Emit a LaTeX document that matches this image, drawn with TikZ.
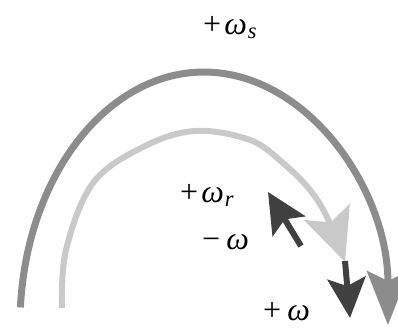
\documentclass[tikz,border=0pt]{standalone}
\usepackage{fontspec}
\setmainfont{Liberation Serif}
\usepackage{xcolor}
\usetikzlibrary{arrows.meta}

\definecolor{statorgray}{gray}{0.55}
\definecolor{rotorgray}{gray}{0.79}
\definecolor{slipdark}{gray}{0.25}

\begin{document}
\begin{tikzpicture}[x=1pt, y=1pt,
    lbl/.style={inner sep=0pt, anchor=base west, font=\fontsize{32}{34}\selectfont},
    statorarc/.style={draw=statorgray, line width=7pt,
                -{Stealth[length=54pt, width=42pt, inset=10pt]}},
    rotorarc/.style={draw=rotorgray, line width=6pt,
                -{Stealth[length=53pt, width=48pt, inset=11pt]}},
    sliparr/.style={draw=slipdark, line width=6pt,
                -{Stealth[length=40pt, width=38pt, inset=8pt]}}
  ]
  \useasboundingbox (0,0) rectangle (398,329);

  % end points of the arrows
  \coordinate (sstart) at (20.4,21.6);
  \coordinate (pstart) at (345,68);
  \coordinate (ptip)   at (350,11);
  \coordinate (mstart) at (301,83);
  \coordinate (mtip)   at (268,137);

  % stator field, rotor field
  \draw[statorarc] (sstart) arc[start angle=176, end angle=0, x radius=184, y radius=253];
  \draw[rotorarc] plot[smooth, tension=0.6] coordinates
    {(62,21) (66,79) (93,146) (143,182) (195,198) (250,189) (283,166) (310,139) (328,110) (345,67)};

  % slip speed, both ways
  \draw[sliparr] (pstart) -- (ptip);
  \draw[sliparr] (mstart) -- (mtip);

  \node[lbl] (ws) at (203,294) {+\kern3pt\textit{ω}\kern1pt\textsubscript{\textit{s}}};
  \node[lbl] (wr) at (180,126) {+\kern3pt\textit{ω}\kern1pt\textsubscript{\textit{r}}};
  \node[lbl] (wm) at (202,79)  {−\kern6pt\textit{ω}};
  \node[lbl] (wp) at (263,9)   {+\kern6pt\textit{ω}};
\end{tikzpicture}
\end{document}
